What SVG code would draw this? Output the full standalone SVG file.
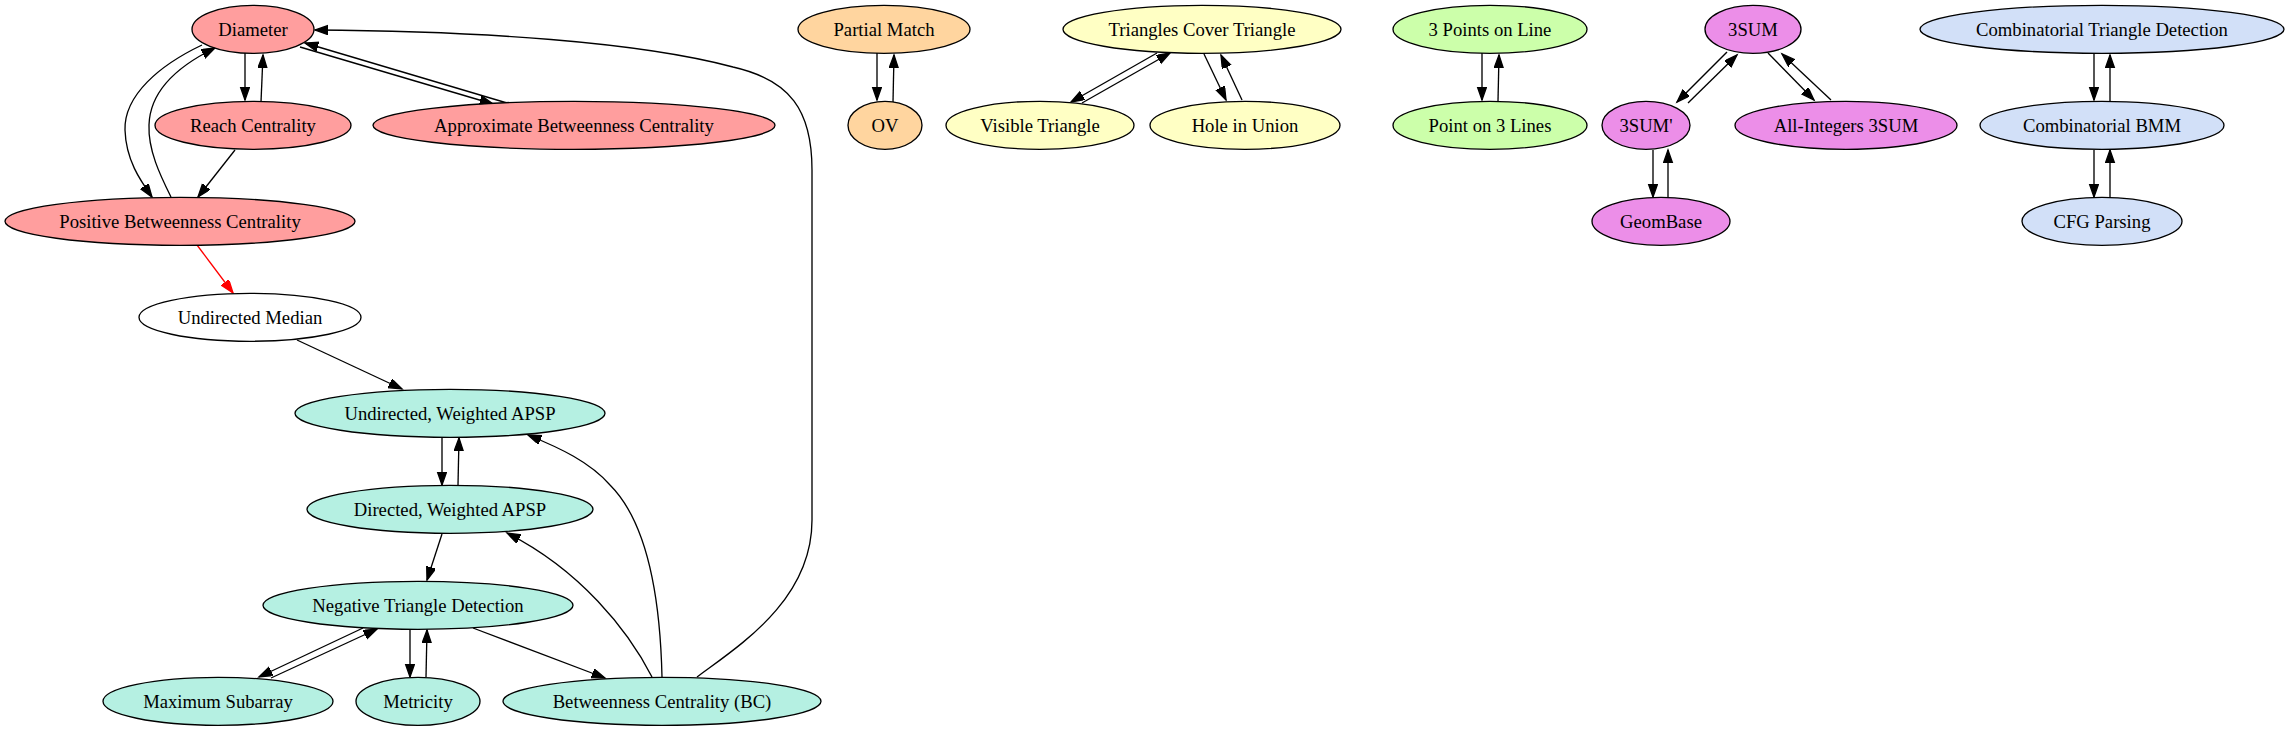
<svg xmlns="http://www.w3.org/2000/svg" width="2289" height="731" viewBox="0 0 2289 731">
<style>
.n ellipse{stroke:#000;stroke-width:1.33}
.n text{font-family:"Liberation Serif","Times New Roman",serif;font-size:18.67px;text-anchor:middle;fill:#000}
.pink{fill:#ff9e9e}.white{fill:#fff}.teal{fill:#b5f0e2}.orange{fill:#ffd59f}.yellow{fill:#ffffc4}.green{fill:#ccffaa}.violet{fill:#ec8ee8}.blue{fill:#d2e0f8}
#edges path{fill:none;stroke:#000;stroke-width:1.33;marker-end:url(#ah)}
#edges path.red{stroke:#f00;marker-end:url(#ahr)}
</style>
<defs>
<marker id="ah" markerUnits="userSpaceOnUse" markerWidth="16" markerHeight="12" refX="13.3" refY="4.67" orient="auto"><path d="M0,0 L13.3,4.67 L0,9.33 z" fill="#000" stroke="#000" stroke-width="1.33"/></marker>
<marker id="ahr" markerUnits="userSpaceOnUse" markerWidth="16" markerHeight="12" refX="13.3" refY="4.67" orient="auto"><path d="M0,0 L13.3,4.67 L0,9.33 z" fill="#f00" stroke="#f00" stroke-width="1.33"/></marker>
</defs>
<rect width="2289" height="731" fill="#fff"/>
<g id="edges">
<path d="M245,53 L245,100"/>
<path d="M261,102 L263,55"/>
<path d="M202,45 C160,65 124,95 125,130 C126,160 140,180 152,197"/>
<path d="M171,197 C160,175 148,150 149,125 C150,90 180,65 215,48"/>
<path d="M235,150 L198,197"/>
<path d="M300,47 L493,104"/>
<path d="M507,103 L305,43"/>
<path class="red" d="M197,245 L233,293"/>
<path d="M297,340 L402,389"/>
<path d="M442,438 L442,485"/>
<path d="M458,485 L459,438"/>
<path d="M442,534 L427,580"/>
<path d="M363,628 L259,677"/>
<path d="M271,678 L377,629"/>
<path d="M410,629 L410,677"/>
<path d="M426,677 L427,630"/>
<path d="M473,628 L605,678"/>
<path d="M652,677 C628,630 580,570 507,533"/>
<path d="M662,677 C660,590 645,520 610,485 C590,462 560,448 528,435"/>
<path d="M697,677 C740,645 812,600 812,520 L812,170 C812,110 790,80 733,67 C640,42 480,31 315,30"/>
<path d="M877,53 L877,100"/>
<path d="M893,102 L894,55"/>
<path d="M1157,53 L1071,102"/>
<path d="M1082,103 L1170,53"/>
<path d="M1204,54 L1226,100"/>
<path d="M1242,100 L1221,55"/>
<path d="M1482,53 L1482,100"/>
<path d="M1498,101 L1499,55"/>
<path d="M1727,52 L1677,102"/>
<path d="M1688,103 L1737,55"/>
<path d="M1768,53 L1814,100"/>
<path d="M1831,100 L1782,54"/>
<path d="M1653,150 L1653,197"/>
<path d="M1668,197 L1668,150"/>
<path d="M2094,53 L2094,100"/>
<path d="M2110,101 L2110,55"/>
<path d="M2094,150 L2094,197"/>
<path d="M2110,197 L2110,150"/>
</g>
<g id="diameter" class="n"><ellipse class="pink" cx="253" cy="29.3" rx="61" ry="24"/><text x="253" y="35.5">Diameter</text></g>
<g id="reach" class="n"><ellipse class="pink" cx="253" cy="125.3" rx="98" ry="24"/><text x="253" y="131.5">Reach Centrality</text></g>
<g id="approx" class="n"><ellipse class="pink" cx="574" cy="125.3" rx="201" ry="24"/><text x="574" y="131.5">Approximate Betweenness Centrality</text></g>
<g id="pbc" class="n"><ellipse class="pink" cx="180" cy="221.3" rx="175" ry="24"/><text x="180" y="227.5">Positive Betweenness Centrality</text></g>
<g id="median" class="n"><ellipse class="white" cx="250" cy="317.3" rx="111" ry="24"/><text x="250" y="323.5">Undirected Median</text></g>
<g id="uwapsp" class="n"><ellipse class="teal" cx="450" cy="413.3" rx="155" ry="24"/><text x="450" y="419.5">Undirected, Weighted APSP</text></g>
<g id="dwapsp" class="n"><ellipse class="teal" cx="450" cy="509.3" rx="143" ry="24"/><text x="450" y="515.5">Directed, Weighted APSP</text></g>
<g id="ntd" class="n"><ellipse class="teal" cx="418" cy="605.3" rx="155" ry="24"/><text x="418" y="611.5">Negative Triangle Detection</text></g>
<g id="maxsub" class="n"><ellipse class="teal" cx="218" cy="701.3" rx="115" ry="24"/><text x="218" y="707.5">Maximum Subarray</text></g>
<g id="metricity" class="n"><ellipse class="teal" cx="418" cy="701.3" rx="62" ry="24"/><text x="418" y="707.5">Metricity</text></g>
<g id="bc" class="n"><ellipse class="teal" cx="662" cy="701.3" rx="159" ry="24"/><text x="662" y="707.5">Betweenness Centrality (BC)</text></g>
<g id="partial" class="n"><ellipse class="orange" cx="884" cy="29.3" rx="86" ry="24"/><text x="884" y="35.5">Partial Match</text></g>
<g id="ov" class="n"><ellipse class="orange" cx="885" cy="125.3" rx="37" ry="24"/><text x="885" y="131.5">OV</text></g>
<g id="tct" class="n"><ellipse class="yellow" cx="1202" cy="29.3" rx="139" ry="24"/><text x="1202" y="35.5">Triangles Cover Triangle</text></g>
<g id="visible" class="n"><ellipse class="yellow" cx="1040" cy="125.3" rx="94" ry="24"/><text x="1040" y="131.5">Visible Triangle</text></g>
<g id="hole" class="n"><ellipse class="yellow" cx="1245" cy="125.3" rx="95" ry="24"/><text x="1245" y="131.5">Hole in Union</text></g>
<g id="threepoints" class="n"><ellipse class="green" cx="1490" cy="29.3" rx="97" ry="24"/><text x="1490" y="35.5">3 Points on Line</text></g>
<g id="pointon3" class="n"><ellipse class="green" cx="1490" cy="125.3" rx="97" ry="24"/><text x="1490" y="131.5">Point on 3 Lines</text></g>
<g id="threesum" class="n"><ellipse class="violet" cx="1753" cy="29.3" rx="48" ry="24"/><text x="1753" y="35.5">3SUM</text></g>
<g id="threesumprime" class="n"><ellipse class="violet" cx="1646" cy="125.3" rx="44" ry="24"/><text x="1646" y="131.5">3SUM'</text></g>
<g id="allint" class="n"><ellipse class="violet" cx="1846" cy="125.3" rx="111" ry="24"/><text x="1846" y="131.5">All-Integers 3SUM</text></g>
<g id="geombase" class="n"><ellipse class="violet" cx="1661" cy="221.3" rx="69" ry="24"/><text x="1661" y="227.5">GeomBase</text></g>
<g id="ctd" class="n"><ellipse class="blue" cx="2102" cy="29.3" rx="182" ry="24"/><text x="2102" y="35.5">Combinatorial Triangle Detection</text></g>
<g id="cbmm" class="n"><ellipse class="blue" cx="2102" cy="125.3" rx="122" ry="24"/><text x="2102" y="131.5">Combinatorial BMM</text></g>
<g id="cfg" class="n"><ellipse class="blue" cx="2102" cy="221.3" rx="80" ry="24"/><text x="2102" y="227.5">CFG Parsing</text></g>
</svg>
